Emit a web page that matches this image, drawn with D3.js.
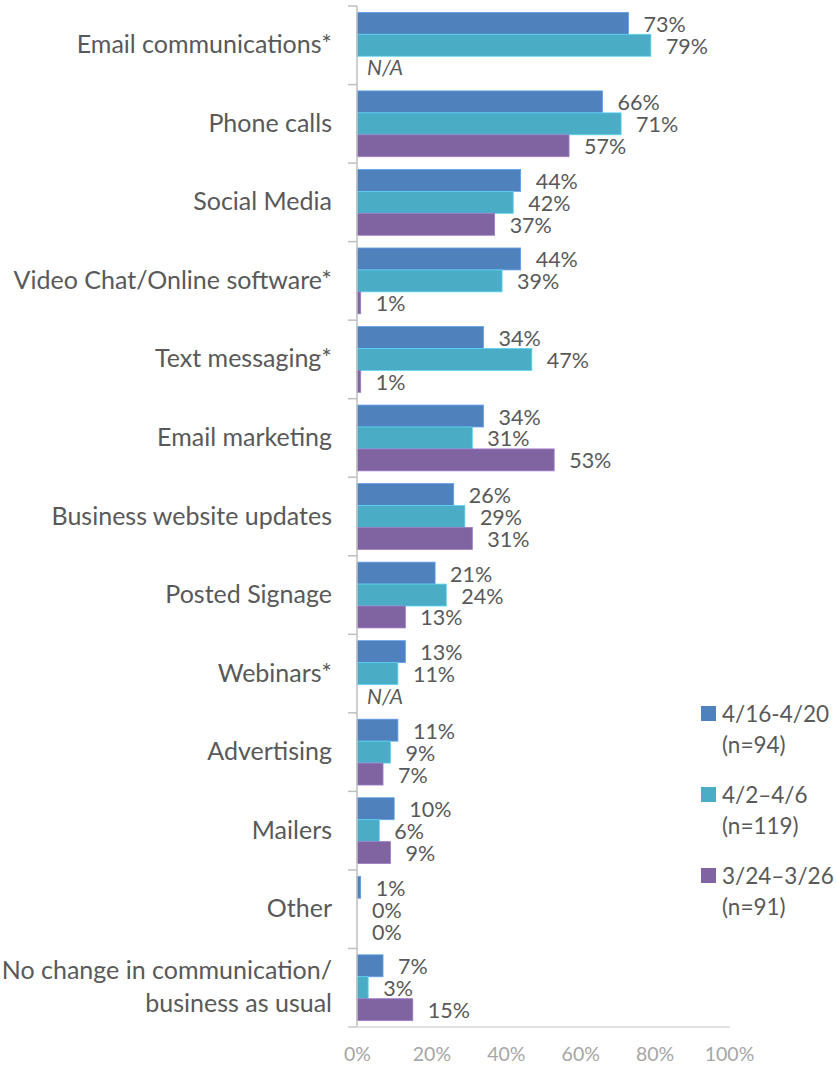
<!DOCTYPE html>
<html>
<head>
<meta charset="utf-8">
<script src="https://cdn.jsdelivr.net/npm/d3@7"></script>
<style>
  html, body { margin: 0; padding: 0; background: #fff; }
  svg { display: block; font-family: Lato, "Open Sans", sans-serif; }
</style>
</head>
<body>
<svg id="chart" width="837" height="1067"></svg>
<script>
// Communication channels used by businesses, three survey waves
const categories = [
  "Email communications*",
  "Phone calls",
  "Social Media",
  "Video Chat/Online software*",
  "Text messaging*",
  "Email marketing",
  "Business website updates",
  "Posted Signage",
  "Webinars*",
  "Advertising",
  "Mailers",
  "Other",
  "No change in communication/\nbusiness as usual"
];
const seriesNames = ["4/16-4/20", "4/2–4/6", "3/24–3/26"];
const seriesN = ["(n=94)", "(n=119)", "(n=91)"];
const wave1 = [73, 66, 44, 44, 34, 34, 26, 21, 13, 11, 10, 1, 7];
const wave2 = [79, 71, 42, 39, 47, 31, 29, 24, 11, 9, 6, 0, 3];
const wave3 = [null, 57, 37, 1, 1, 53, 31, 13, null, 7, 9, 0, 15];
const xTicks = [0, 20, 40, 60, 80, 100];
const colors = ["#4F81BD", "#4BACC6", "#8064A2"];

const seriesValues = [wave1, wave2, wave3];

const svg = d3.select("#chart");
const textColor = "#595959";

const x = d3.scaleLinear().domain([0, 100]).range([357, 729]);
const y = d3.scaleBand().domain(categories).range([6, 1027]).paddingInner(0).paddingOuter(0);
const sub = d3.scaleBand().domain(d3.range(3)).range([0, y.bandwidth()])
  .paddingInner(0).paddingOuter(0.29);

// bars and value labels
const groups = svg.append("g").selectAll("g")
  .data(categories)
  .join("g")
  .attr("transform", d => `translate(0,${y(d)})`);

groups.each(function(cat, ci) {
  const g = d3.select(this);
  seriesValues.forEach((vals, si) => {
    const v = vals[ci];
    const yy = sub(si);
    const h = sub.bandwidth();
    if (v === null) {
      g.append("text")
        .attr("x", x(0) + 10)
        .attr("y", yy + h / 2 + 8)
        .attr("font-size", 21)
        .attr("font-style", "italic")
        .attr("fill", textColor)
        .text("N/A");
      return;
    }
    if (v > 0) {
      g.append("rect")
        .attr("x", x(0))
        .attr("y", yy)
        .attr("width", x(v) - x(0))
        .attr("height", h)
        .attr("fill", colors[si])
        .attr("stroke", d3.color(colors[si]).brighter(0.6))
        .attr("stroke-width", 0.8);
    }
    g.append("text")
      .attr("x", x(v) + 15)
      .attr("y", yy + h / 2 + 8.5)
      .attr("font-size", 21.5)
      .attr("fill", textColor)
      .text(v + "%");
  });
});

// left axis line and category ticks
const axisColor = "#BFBFBF";
svg.append("line")
  .attr("x1", x(0)).attr("x2", x(0))
  .attr("y1", y.range()[0]).attr("y2", y.range()[1])
  .attr("stroke", axisColor).attr("stroke-width", 1.5);
const boundaries = categories.map(c => y(c)).concat([y.range()[1]]);
svg.append("g").selectAll("line")
  .data(boundaries)
  .join("line")
  .attr("x1", x(0) - 9).attr("x2", x(0))
  .attr("y1", d => d).attr("y2", d => d)
  .attr("stroke", axisColor).attr("stroke-width", 1.5);

// bottom axis
const xAxis = svg.append("g")
  .attr("transform", `translate(0,${y.range()[1]})`)
  .call(d3.axisBottom(x).tickValues(xTicks).tickSize(0).tickPadding(20).tickFormat(d => d + "%"));
xAxis.select(".domain").remove();
xAxis.append("line")
  .attr("x1", x(0) - 9).attr("x2", x(100) + 1)
  .attr("y1", 0).attr("y2", 0)
  .attr("stroke", "#D9D9D9").attr("stroke-width", 1.5);
xAxis.selectAll("text")
  .attr("font-size", 19.5)
  .attr("font-family", "Lato, 'Open Sans', sans-serif")
  .attr("fill", "#A6A6A6");

// category labels
svg.append("g").selectAll("text")
  .data(categories)
  .join("text")
  .attr("text-anchor", "end")
  .attr("font-size", 25)
  .attr("fill", textColor)
  .each(function(d) {
    const lines = d.split("\n");
    const cy = y(d) + y.bandwidth() / 2;
    const lh = 33;
    const t = d3.select(this);
    lines.forEach((ln, i) => {
      t.append("tspan")
        .attr("x", 332)
        .attr("y", cy + 8 + (i - (lines.length - 1) / 2) * lh)
        .text(ln);
    });
  });

// legend
const legend = svg.append("g");
const legendTop = [706, 787, 868];
seriesNames.forEach((name, i) => {
  const ly = legendTop[i];
  legend.append("rect")
    .attr("x", 701).attr("y", ly)
    .attr("width", 15).attr("height", 15)
    .attr("fill", colors[i]);
  legend.append("text")
    .attr("x", 722).attr("y", ly + 16)
    .attr("font-size", 22.5)
    .attr("fill", textColor)
    .text(name);
  legend.append("text")
    .attr("x", 722).attr("y", ly + 47)
    .attr("font-size", 22.5)
    .attr("fill", textColor)
    .text(seriesN[i]);
});
</script>
</body>
</html>
